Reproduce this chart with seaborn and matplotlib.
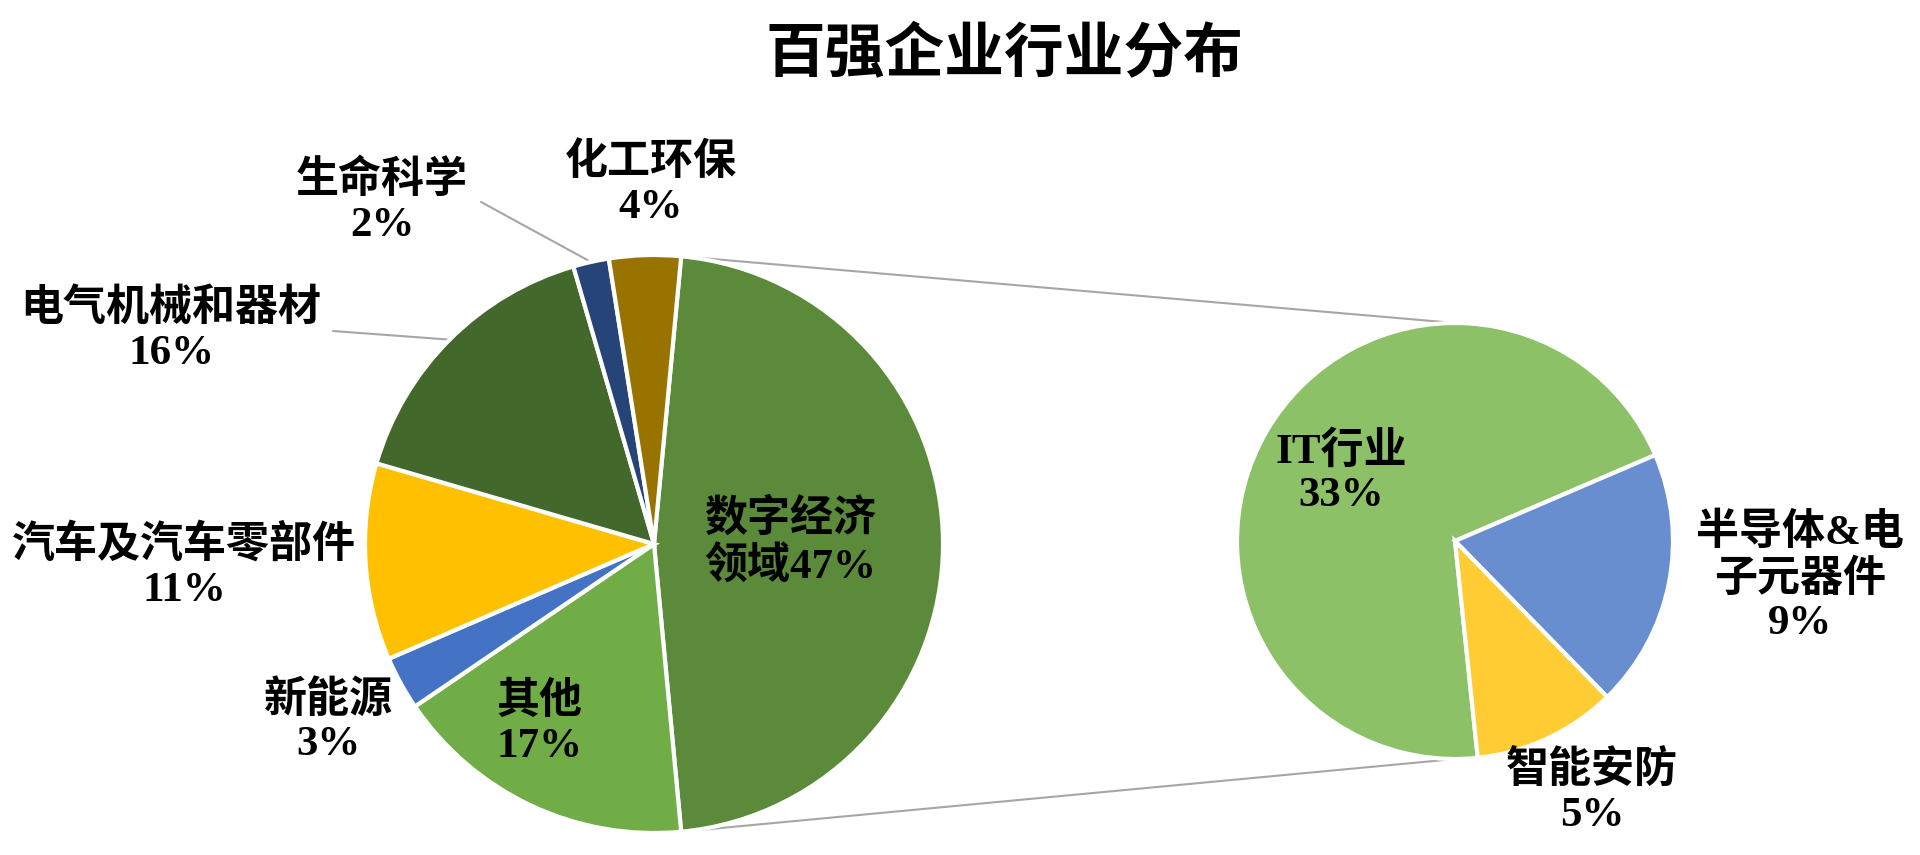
import matplotlib
matplotlib.use("Agg")
import matplotlib.pyplot as plt
import numpy as np
import seaborn as sns

# data
main_names = ["数字经济领域", "其他", "新能源", "汽车及汽车零部件", "电气机械和器材", "生命科学", "化工环保"]
main_pcts = [47, 17, 3, 11, 16, 2, 4]
sub_names = ["IT行业", "半导体&电子元器件", "智能安防"]
sub_pcts = [33, 9, 5]

main_colors = ["#5A8A3A", "#70AD47", "#4472C4", "#FFC000", "#43682B", "#264478", "#997300"]
sub_colors = ["#8CC168", "#698ED0", "#FFCD33"]

# label text as wrapped in the picture
main_labels = ["数字经济\n领域{}%", "{}\n{}%", "{}\n{}%", "{}\n{}%", "{}\n{}%", "{}\n{}%", "{}\n{}%"]
sub_labels = ["{}\n{}%", "半导体&电\n子元器件\n{}%", "{}\n{}%"]

# layout (pixel coordinates, y up)
W, H = 1920, 855
c1, r1 = (654, 311), 289
c2, r2 = (1455, 314), 218
main_pos = [(790, 312), (539, 131), (328, 133), (184, 288), (171, 524), (382, 653), (651, 670)]
sub_pos = [(1341, 382), (1800, 277), (1592, 62)]
leader_start = {4: (333, 524), 5: (481, 653)}

sns.set_theme(style="white")
plt.rcParams["font.family"] = ["Liberation Serif", "Noto Sans CJK SC", "DejaVu Sans"]

fig = plt.figure(figsize=(W / 100, H / 100), dpi=100)
ax = fig.add_axes([0, 0, 1, 1])

start1 = sum(main_pcts[:1]) / sum(main_pcts) * 180
wedges1, _ = ax.pie(main_pcts, colors=main_colors, startangle=start1, counterclock=False,
                    center=c1, radius=r1, wedgeprops=dict(edgecolor="white", linewidth=3))
wedges2, _ = ax.pie(sub_pcts, colors=sub_colors, startangle=276, counterclock=False,
                    center=c2, radius=r2, wedgeprops=dict(edgecolor="white", linewidth=3))

# connector lines between the pies
for ang, ang2 in [(start1, 90), (-start1, -90)]:
    a, b = np.deg2rad(ang), np.deg2rad(ang2)
    ax.plot([c1[0] + r1 * np.cos(a), c2[0] + r2 * np.cos(b)],
            [c1[1] + r1 * np.sin(a), c2[1] + r2 * np.sin(b)],
            color="#A6A6A6", lw=1.5, zorder=0)

txt = dict(fontsize=31, fontweight="bold", ha="center", va="center", linespacing=1.2,
           color="black")

for i, (name, pct) in enumerate(zip(main_names, main_pcts)):
    fmt = main_labels[i]
    s = fmt.format(pct) if fmt.count("{}") == 1 else fmt.format(name, pct)
    ax.text(*main_pos[i], s, **txt)
    if i in leader_start:
        w = wedges1[i]
        mid = np.deg2rad((w.theta1 + w.theta2) / 2)
        ax.plot([leader_start[i][0], c1[0] + r1 * np.cos(mid)],
                [leader_start[i][1], c1[1] + r1 * np.sin(mid)],
                color="#A6A6A6", lw=1.5, zorder=0)

for i, (name, pct) in enumerate(zip(sub_names, sub_pcts)):
    fmt = sub_labels[i]
    s = fmt.format(pct) if fmt.count("{}") == 1 else fmt.format(name, pct)
    ax.text(*sub_pos[i], s, **txt)

ax.text(1004, 800, "百强企业行业分布", fontsize=43, fontweight="bold", ha="center", va="center",
        color="black", family=["Noto Sans CJK SC"])

ax.set_xlim(0, W)
ax.set_ylim(0, H)
ax.set_aspect("equal")
ax.axis("off")

fig.savefig("out.png", dpi=100, facecolor="white")
